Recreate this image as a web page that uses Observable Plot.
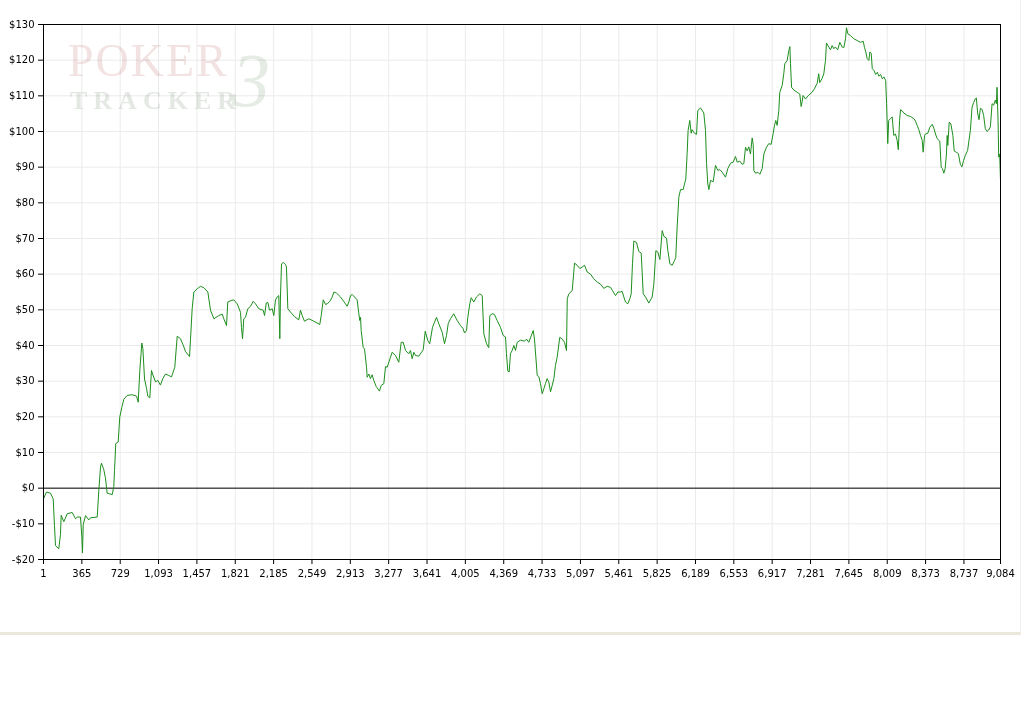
<!DOCTYPE html>
<html>
<head>
<meta charset="utf-8">
<script src="https://cdn.jsdelivr.net/npm/d3@7"></script>
<script src="https://cdn.jsdelivr.net/npm/@observablehq/plot@0.6"></script>
<style>
  html, body { margin: 0; padding: 0; background: white; }
  #panel { position: relative; width: 1020px; height: 632px; border-bottom: 3px solid #ebe7d9; border-right: 1px solid #f1f0ea; background: white; }
  #wm { position: absolute; left: 0; top: 0; width: 300px; height: 130px; pointer-events: none; mix-blend-mode: multiply; font-family: "Liberation Serif", "DejaVu Serif", serif; }
  #wm .poker { position: absolute; left: 68px; top: 38px; font-size: 46px; line-height: 1; color: #f3e2e2; letter-spacing: 2px; }
  #wm .tracker { position: absolute; left: 70px; top: 88px; font-size: 26px; line-height: 1; color: #e4e9e4; letter-spacing: 6px; font-weight: bold; }
  #wm .three { position: absolute; left: 232px; top: 42px; font-size: 76px; line-height: 1; color: #e4ece4; font-style: italic; }
</style>
</head>
<body>
<div id="panel">
  <div id="chart"></div>
  <div id="wm"><span class="poker">POKER</span><span class="tracker">TRACKER</span><span class="three">3</span></div>
</div>
<script>
const hands = [
  1,29,67,93,105,115,146,162,169,194,
  226,273,305,321,352,365,371,378,400,431,
  447,511,526,542,551,573,589,605,630,653,
  668,675,687,710,725,744,763,795,842,884,
  900,915,928,934,944,960,979,991,1010,1026,
  1036,1064,1086,1111,1133,1159,1190,1216,1247,1270,
  1301,1327,1349,1387,1396,1412,1428,1460,1491,1523,
  1561,1586,1618,1665,1697,1712,1738,1750,1782,
  1807,1839,1871,1880,1890,1902,1918,1940,1966,1991,
  2013,2045,2086,2099,2115,2130,2146,2172,2187,2203,
  2219,2234,2244,2250,2260,2276,2298,2307,2320,2345,
  2383,2424,2440,2456,2478,2519,2567,2623,2637,2656,
  2678,2694,2719,2741,2757,2782,2820,2867,2883,2899,
  2915,2931,2978,2994,3003,3010,3016,3035,3048,3067,
  3073,3089,3104,3120,3136,3159,3190,3206,3231,3247,
  3263,3294,3310,3342,3373,3396,3415,3437,3468,3484,
  3500,3516,3532,3563,3605,
  3624,3648,3667,3693,3712,3731,3753,3785,3807,3826,
  3842,3864,3895,3927,3959,3984,3997,4016,4028,4047,
  4060,4085,4110,4142,4165,4180,4206,4227,4237,4260,
  4281,4307,4338,4364,4386,4395,4408,4421,4433,4449,
  4465,4481,4497,4528,4566,4585,4607,4630,4649,4661,
  4687,4702,4718,4734,4750,4765,4781,4797,4813,4829,
  4845,4860,4876,4901,4924,4946,4965,4972,4987,5019,
  5041,5066,5091,5114,5136,5161,5193,5224,5256,5288,
  5319,5351,5383,5399,5430,5452,5477,5493,5509,5525,
  5547,5566,5579,5591,
  5604,5629,5651,5674,5693,5715,5746,5778,5794,5813,
  5832,5851,5873,5889,5914,5927,5946,5968,5990,6002,
  6015,6031,6047,6072,6085,6097,6110,6119,6135,6148,
  6157,6180,6199,6211,6237,6268,6284,6294,6306,6316,
  6332,6357,6379,6401,6420,6442,6474,6496,6521,6547,
  6569,6585,6610,6632,6648,6664,6680,6695,6711,6727,
  6737,6743,6759,6781,6800,6822,6838,6863,6885,6907,
  6926,6939,6951,6964,6980,6989,7012,7027,7037,7059,
  7075,7085,7091,7101,7123,7154,7179,7192,7202,
  7210,7233,7264,7296,7318,7344,7359,7368,7391,7407,
  7423,7432,7454,7470,7486,7502,7517,7539,7559,7581,
  7597,7613,7622,7635,7660,7692,7724,7755,7781,7793,
  7806,7819,7835,7844,7857,7867,7883,7899,7915,7930,
  7946,7962,7978,7994,8003,8014,8023,8040,8056,8071,
  8087,8103,8114,8126,8135,8151,8166,8198,8230,8262,
  8277,8293,8309,8325,8341,8350,8363,8372,8394,8413,
  8436,8452,8467,8483,8508,8521,8533,8546,8559,8571,
  8578,8584,8597,8613,8632,8645,8664,8684,8703,8718,
  8734,8750,8772,8798,8814,8829,8845,8855,8867,8880,
  8893,8909,8924,8940,8956,8972,8988,9004,9019,9035,
  9045,9051,9061,9067,9076,9084
];
const winnings = [
  -3.0,-1.1,-1.4,-3.0,-10.4,-16.1,-17.0,-13.0,-7.6,-9.4,
  -7.2,-6.8,-8.6,-8.1,-8.1,-13.7,-18.2,-10.2,-7.7,-8.9,
  -8.3,-8.1,-0.6,5.9,7.0,5.2,2.9,-1.4,-1.6,-1.8,
  0.4,4.9,12.5,13.0,20.0,22.6,24.9,26.0,26.2,25.8,
  24.1,33.0,38.1,40.7,39.2,30.6,28.0,25.8,25.3,33.0,
  32.0,29.8,30.2,28.9,30.7,32.0,31.6,31.2,33.9,42.6,
  41.9,40.1,38.3,36.9,41.6,50.3,55.0,55.9,56.6,56.2,
  55.0,49.9,47.5,48.4,48.8,47.5,45.6,52.2,52.6,
  52.8,51.7,49.3,45.1,41.9,47.5,47.9,50.3,51.0,52.4,
  51.7,50.3,49.9,48.4,51.9,52.1,49.9,50.3,48.4,52.8,
  53.6,54.0,41.9,53.6,62.9,63.3,62.7,62.0,50.3,49.4,
  48.1,47.2,49.9,48.4,46.8,47.5,46.8,45.9,48.4,52.8,
  51.5,51.7,52.4,53.6,55.0,54.7,53.6,51.7,51.0,52.2,
  54.0,54.3,52.8,48.9,47.0,47.9,44.2,39.5,39.0,33.9,
  31.1,32.0,30.7,31.8,30.2,28.5,27.2,28.8,29.3,34.1,
  33.9,36.7,38.1,37.2,35.3,40.9,40.9,38.6,37.7,38.6,
  36.3,38.1,37.2,37.0,38.8,
  44.0,41.4,40.5,45.1,46.5,47.9,46.1,43.7,40.5,42.8,
  46.1,47.5,48.9,47.0,45.6,44.7,43.5,44.2,47.9,51.7,
  53.4,52.2,53.6,54.5,54.0,43.3,40.5,39.4,48.4,48.9,
  48.7,47.0,45.1,42.8,42.4,37.7,32.8,32.6,37.7,38.6,
  40.0,38.6,40.9,41.5,41.2,41.8,40.9,42.7,44.2,41.8,
  31.6,31.3,29.3,26.5,27.9,29.3,30.7,29.8,27.0,28.8,
  30.7,34.4,36.7,42.3,41.8,40.9,38.6,53.1,54.5,55.4,
  63.1,62.5,61.6,62.0,62.5,60.6,60.0,58.7,57.8,57.2,
  56.0,56.6,56.3,55.5,54.0,55.0,55.0,55.2,53.6,52.2,
  51.7,53.1,54.5,62.9,
  69.3,68.9,66.4,65.9,54.5,53.6,51.9,53.6,57.3,66.6,
  66.2,64.1,72.2,70.6,70.1,66.6,62.9,62.5,63.8,64.7,
  73.2,81.6,83.7,83.7,85.3,86.7,93.8,100.3,103.1,99.5,
  100.5,99.5,99.2,105.9,106.6,105.2,100.3,91.0,85.3,83.7,
  86.3,85.9,90.5,89.1,89.3,88.6,87.2,89.6,91.1,91.4,
  93.0,91.4,91.7,90.8,91.0,95.6,94.6,95.7,93.7,98.2,
  96.3,89.1,88.3,88.6,88.0,89.6,93.7,95.6,96.6,96.4,
  99.4,101.7,103.1,101.7,105.9,111.0,112.9,116.2,119.0,119.9,
  122.7,123.8,119.0,112.4,111.6,111.0,110.5,107.0,108.5,
  110.1,109.1,110.2,111.0,112.0,113.5,116.2,113.7,114.9,116.2,
  119.9,124.8,123.7,122.9,124.1,123.2,123.7,122.9,125.0,123.7,
  123.5,126.0,129.1,127.4,126.9,126.0,125.5,125.0,125.3,123.6,
  122.3,120.4,119.9,122.3,121.9,117.6,117.1,116.0,116.6,115.5,
  116.0,114.8,115.3,114.3,107.8,96.6,103.1,103.6,104.1,98.9,
  99.3,97.5,94.9,103.1,106.1,105.8,105.2,104.5,104.2,103.6,
  102.9,101.7,100.5,98.9,97.5,94.2,98.9,99.3,99.5,101.2,
  102.0,100.9,99.3,98.0,97.3,90.0,89.6,88.3,89.6,93.7,
  98.9,96.1,102.6,102.1,98.9,94.5,94.2,93.8,90.8,90.1,
  91.9,93.3,94.7,100.3,106.8,108.1,109.2,109.4,105.2,103.3,
  106.5,106.2,104.5,100.8,100.0,100.4,101.3,107.8,107.4,108.8,
  107.8,112.4,103.1,92.8,93.7,86.3
];
const xTicks = [1,365,729,1093,1457,1821,2185,2549,2913,3277,3641,4005,4369,4733,5097,5461,5825,6189,6553,6917,7281,7645,8009,8373,8737,9084];
const yTicks = [-20,-10,0,10,20,30,40,50,60,70,80,90,100,110,120,130];

const n = Math.min(hands.length, winnings.length);
const data = d3.range(n).map(i => ({hand: hands[i], won: winnings[i]}));
const fmtX = d3.format(",");
const fmtY = d => d < 0 ? `-$${-d}` : `$${d}`;

const chart = Plot.plot({
  width: 1020,
  height: 600,
  marginLeft: 43,
  marginRight: 20,
  marginTop: 24,
  marginBottom: 41,
  style: {fontFamily: "'DejaVu Sans', sans-serif", fontSize: "10px", color: "black", background: "white", overflow: "visible"},
  x: {domain: [1, 9084], label: null},
  y: {domain: [-20, 130], label: null},
  marks: [
    Plot.gridX(xTicks, {stroke: "#ebebeb", strokeOpacity: 1}),
    Plot.gridY(yTicks, {stroke: "#ebebeb", strokeOpacity: 1}),
    Plot.ruleY([0], {stroke: "black", strokeWidth: 1}),
    Plot.line(data, {x: "hand", y: "won", stroke: "#1d8e1d", strokeWidth: 1}),
    Plot.frame({stroke: "black", strokeWidth: 1}),
    Plot.axisX(xTicks, {tickSize: 5, tickPadding: 5, tickFormat: fmtX, stroke: "black", fill: "black"}),
    Plot.axisY(yTicks, {tickSize: 5, tickPadding: 4, tickFormat: fmtY, stroke: "black", fill: "black"})
  ]
});
document.getElementById("chart").appendChild(chart);
</script>
</body>
</html>
